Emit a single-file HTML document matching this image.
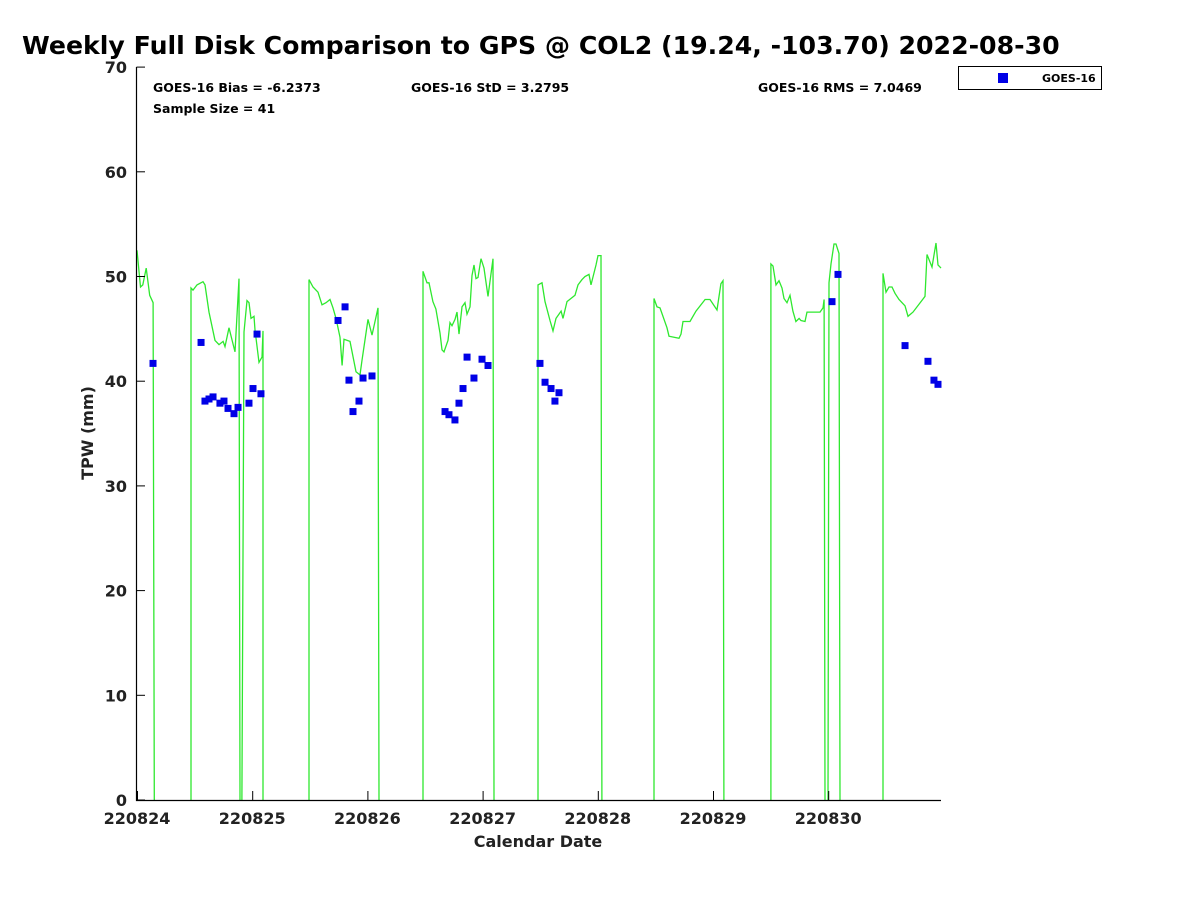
<!DOCTYPE html>
<html><head><meta charset="utf-8"><style>
body{margin:0;background:#fff;}
svg{display:block;font-family:"DejaVu Sans","Liberation Sans",sans-serif;font-weight:bold;}
</style></head><body>
<svg id="chart" width="1200" height="900" viewBox="0 0 1200 900">
<rect x="0" y="0" width="1200" height="900" fill="#fff"/>
<text x="22" y="54" font-size="25.2" fill="#000">Weekly Full Disk Comparison to GPS @ COL2 (19.24, -103.70) 2022-08-30</text>
<text x="153" y="92" font-size="12.5" fill="#000">GOES-16 Bias = -6.2373</text>
<text x="153" y="113" font-size="12.5" fill="#000">Sample Size = 41</text>
<text x="411" y="92" font-size="12.5" fill="#000">GOES-16 StD = 3.2795</text>
<text x="758" y="92" font-size="12.5" fill="#000">GOES-16 RMS = 7.0469</text>
<g>
<rect x="958.5" y="66.5" width="143" height="23" fill="#fff" stroke="#000" stroke-width="1"/>
<rect x="998" y="73" width="10" height="10" fill="#0000e6"/>
<text x="1042" y="82" font-size="11" fill="#000">GOES-16</text>
</g>
<g id="plot"></g>
<text transform="translate(93,433) rotate(-90)" text-anchor="middle" font-size="16" fill="#222">TPW (mm)</text>
<text x="538" y="847" text-anchor="middle" font-size="16" fill="#222">Calendar Date</text>
</svg>
<script>
const xTickLabels = ["220824","220825","220826","220827","220828","220829","220830"];
const yTicks = [0,10,20,30,40,50,60,70];
// GPS TPW line: segments of [day, value]
const gpsDays = [
 [0,0.03,0.05,0.08,0.11,0.14,0.15],
 [0.469,0.469,0.486,0.521,0.573,0.590,0.625,0.677,0.712,0.747,0.764,0.799,0.851,0.885,0.894],
 [0.911,0.929,0.955,0.972,0.990,1.016,1.024,1.059,1.085,1.094,1.094],
 [1.493,1.493,1.528,1.571,1.606,1.641,1.675,1.701,1.727,1.762,1.780,1.797,1.849,1.901,1.936,1.953,2.005,2.040,2.092,2.101],
 [2.483,2.483,2.517,2.535,2.569,2.595,2.630,2.648,2.665,2.700,2.717,2.734,2.760,2.778,2.795,2.821,2.847,2.865,2.891,2.908,2.925,2.943,2.960,2.986,3.012,3.047,3.090,3.099],
 [3.481,3.481,3.516,3.542,3.585,3.611,3.637,3.681,3.698,3.733,3.802,3.828,3.863,3.889,3.924,3.941,3.984,4.002,4.028,4.036],
 [4.488,4.488,4.514,4.540,4.601,4.618,4.705,4.722,4.740,4.800,4.852,4.931,4.974,5.035,5.069,5.087,5.095],
 [5.503,5.503,5.521,5.547,5.573,5.599,5.616,5.642,5.668,5.694,5.720,5.747,5.764,5.799,5.816,5.929,5.955,5.964,5.972],
 [5.998,6.007,6.024,6.050,6.068,6.094,6.102],
 [6.476,6.476,6.502,6.528,6.554,6.580,6.615,6.667,6.693,6.736,6.840,6.858,6.901,6.936,6.953,6.979]
];
const gpsValues = [
 [52.5,49.0,49.2,50.8,48.2,47.5,0],
 [0,48.9,48.7,49.2,49.5,49.2,46.6,43.9,43.5,43.8,43.3,45.1,42.8,49.8,0],
 [0,44.7,47.7,47.5,46.0,46.2,44.9,41.8,42.3,44.8,0],
 [0,49.7,49.0,48.5,47.3,47.5,47.8,47.0,46.0,44.2,41.5,44.0,43.8,40.9,40.6,42.0,45.9,44.4,47.0,0],
 [0,50.5,49.4,49.4,47.6,46.9,44.6,43.0,42.8,43.9,45.6,45.3,45.9,46.6,44.5,47.1,47.5,46.4,47.1,50.1,51.1,49.8,49.9,51.7,50.8,48.1,51.7,0],
 [0,49.2,49.4,47.6,45.8,44.8,46.0,46.7,46.0,47.6,48.2,49.2,49.7,50.0,50.2,49.2,51.1,52.0,52.0,0],
 [0,47.9,47.1,47.0,45.1,44.3,44.1,44.5,45.7,45.7,46.7,47.8,47.8,46.8,49.3,49.6,0],
 [0,51.2,51.0,49.2,49.6,48.9,47.9,47.5,48.2,46.7,45.7,46.0,45.8,45.7,46.6,46.6,47.0,47.8,0],
 [0,49.4,51.2,53.1,53.1,52.2,0],
 [0,50.3,48.5,49.0,49.0,48.4,47.8,47.2,46.2,46.6,48.1,52.1,50.9,53.2,51.1,50.8]
];
// GOES-16 retrievals
const goesDays = [0.139,0.556,0.590,0.625,0.660,0.720,0.755,0.790,0.842,0.877,0.972,1.007,1.042,1.076,
 1.745,1.806,1.840,1.875,1.927,1.962,2.040,
 2.674,2.708,2.760,2.795,2.830,2.865,2.925,2.995,3.047,
 3.498,3.542,3.594,3.628,3.663,
 6.033,6.085,6.667,6.866,6.918,6.953];
const goesValues = [41.7,43.7,38.1,38.3,38.5,37.9,38.1,37.4,36.9,37.5,37.9,39.3,44.5,38.8,
 45.8,47.1,40.1,37.1,38.1,40.3,40.5,
 37.1,36.8,36.3,37.9,39.3,42.3,40.3,42.1,41.5,
 41.7,39.9,39.3,38.1,38.9,
 47.6,50.2,43.4,41.9,40.1,39.7];

const NS="http://www.w3.org/2000/svg";
const X0=137, DX=115.2, Y0=800, DY=10.47;
const xs = d => X0 + d*DX;
const ys = v => Y0 - v*DY;
const plot=document.getElementById('plot');
function mk(tag, attrs){const e=document.createElementNS(NS,tag);for(const k in attrs)e.setAttribute(k,attrs[k]);plot.appendChild(e);return e;}

gpsDays.forEach((seg,i)=>{
  const pts=seg.map((d,j)=>xs(d).toFixed(1)+','+ys(gpsValues[i][j]).toFixed(1)).join(' ');
  const pl=mk('polyline',{points:pts,fill:'none',stroke:'#2ee82e','stroke-width':1.3});
  
  
});
goesDays.forEach((d,i)=>{
  const r=mk('rect',{x:xs(d)-3.5,y:ys(goesValues[i])-3.5,width:7,height:7,fill:'#0000e6'});
  
  
});
const ax=mk('path',{d:'M136.5,67 V800.5 H941',fill:'none',stroke:'#000','stroke-width':1.2});


yTicks.forEach(v=>{
  const t=mk('line',{x1:136.5,x2:145,y1:ys(v),y2:ys(v),stroke:'#000','stroke-width':1});
  
  
  const l=mk('text',{x:127,y:ys(v)+6,'text-anchor':'end','font-size':16,fill:'#222'});
  l.textContent=v;
  
  
});
xTickLabels.forEach((s,i)=>{
  const t=mk('line',{x1:xs(i)+0.5,x2:xs(i)+0.5,y1:791,y2:800,stroke:'#000','stroke-width':1});
  
  
  const l=mk('text',{x:xs(i),y:824,'text-anchor':'middle','font-size':16,fill:'#222'});
  l.textContent=s;
  
  
});
</script>
</body></html>
